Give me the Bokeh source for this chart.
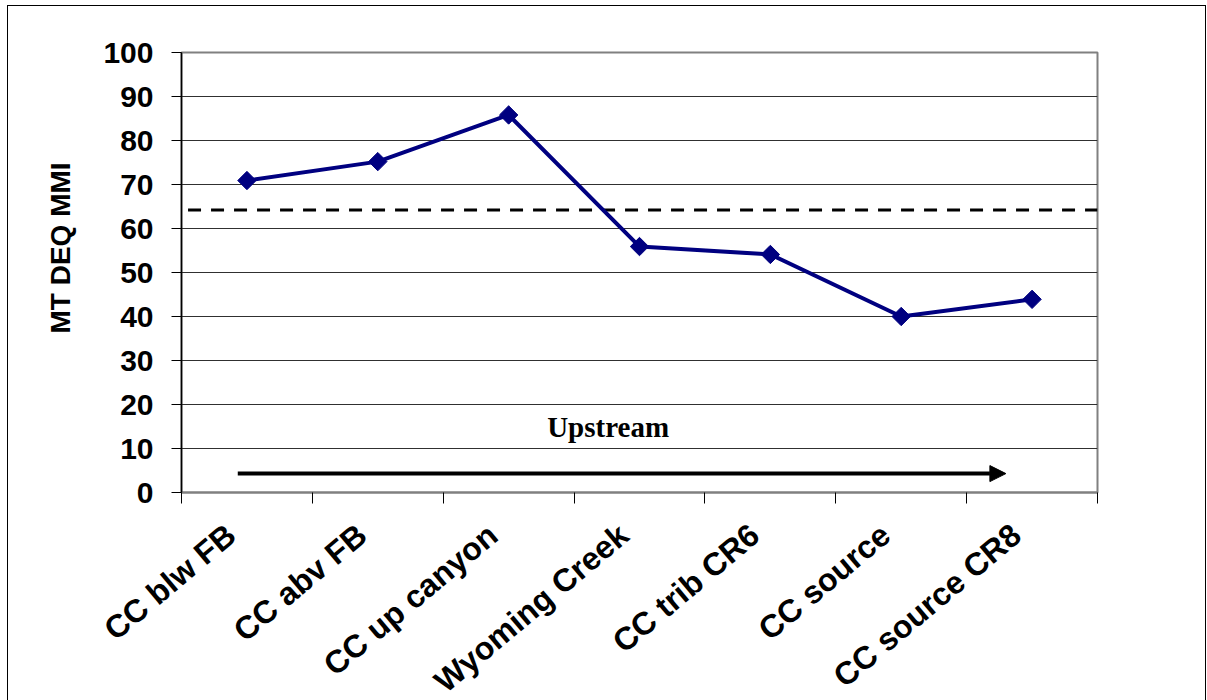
from math import pi
from bokeh.plotting import figure
from bokeh.models import Range1d, FixedTicker, Label, Arrow, NormalHead, Title
from bokeh.embed import file_html
from bokeh.resources import INLINE

# ---- data ----
sites = ["CC blw FB", "CC abv FB", "CC up canyon", "Wyoming Creek",
         "CC trib CR6", "CC source", "CC source CR8"]
mmi = [70.9, 75.2, 85.8, 55.9, 54.1, 40.0, 43.9]
threshold = 64.2
y_ticks = [0, 10, 20, 30, 40, 50, 60, 70, 80, 90, 100]
arrow_text = "Upstream"
y_title = "MT DEQ MMI"

n = len(sites)
xc = [i + 0.5 for i in range(n)]
label_shift = 0.12  # rotated labels sit slightly left of the category centre
xl = [x - label_shift for x in xc]

FONT = "Liberation Sans"

p = figure(frame_width=916, frame_height=440, x_range=Range1d(0, n), y_range=Range1d(0, 100),
           output_backend="svg", toolbar_location=None,
           min_border_left=173, min_border_top=46, min_border_right=108, min_border_bottom=206)
p.styles = {"border-top": "1px solid black", "border-left": "1px solid black",
            "border-right": "1px solid black", "border-bottom": "none",
            "margin-left": "7px", "margin-top": "5px",
            "max-height": "695px", "overflow": "hidden", "box-sizing": "border-box"}
p.background_fill_color = "white"
p.border_fill_color = "white"
p.outline_line_color = "#808080"
p.outline_line_width = 2

# grid
p.xgrid.visible = False
p.ygrid.ticker = FixedTicker(ticks=y_ticks)
p.ygrid.grid_line_color = "#303030"
p.ygrid.grid_line_width = 1

# y axis
p.yaxis.ticker = FixedTicker(ticks=y_ticks, minor_ticks=[])
p.yaxis.major_tick_out = 10
p.yaxis.major_tick_in = 0
p.yaxis.major_tick_line_color = "black"
p.yaxis.minor_tick_line_color = None
p.yaxis.axis_line_color = "black"
p.yaxis.axis_line_width = 1.5
p.yaxis.major_label_text_font = FONT
p.yaxis.major_label_text_font_style = "bold"
p.yaxis.major_label_text_font_size = "30px"
p.yaxis.major_label_text_color = "black"
p.yaxis.major_label_standoff = 18

# y title as a left-side title (allows vertical offset)
p.add_layout(Title(text=y_title, align="left", offset=159, standoff=49,
                   text_font=FONT, text_font_style="bold", text_font_size="28px",
                   text_color="black"), "left")

# x axis
p.xaxis.ticker = FixedTicker(ticks=xl, minor_ticks=list(range(n + 1)))
p.xaxis.major_tick_out = 0
p.xaxis.major_tick_in = 0
p.xaxis.major_tick_line_color = None
p.xaxis.minor_tick_out = 11
p.xaxis.minor_tick_in = 0
p.xaxis.minor_tick_line_color = "black"
p.xaxis.axis_line_color = "#808080"
p.xaxis.axis_line_width = 2
p.xaxis.major_label_overrides = {x: s for x, s in zip(xl, sites)}
p.xaxis.major_label_orientation = 40 * pi / 180
p.xaxis.major_label_text_font = FONT
p.xaxis.major_label_text_font_style = "bold"
p.xaxis.major_label_text_font_size = "32px"
p.xaxis.major_label_text_color = "black"
p.xaxis.major_label_standoff = 27

# threshold dashed line
p.line([0.05, n], [threshold, threshold], line_color="black", line_width=3, line_dash="13 10")

# series
p.line(xc, mmi, line_color="#000080", line_width=4)
p.scatter(xc, mmi, marker="square", angle=pi / 4, size=13, fill_color="#000080", line_color="#000080")

# upstream arrow
p.add_layout(Arrow(x_start=0.43, y_start=4.3, x_end=6.30, y_end=4.3, line_width=4, line_color="black",
                   end=NormalHead(size=16, fill_color="black", line_color="black")))
p.add_layout(Label(x=3.26, y=14.8, text=arrow_text, text_align="center", text_baseline="alphabetic",
                   text_font="Liberation Serif", text_font_style="bold", text_font_size="29px",
                   text_color="black"))

open("out.html", "w").write(file_html(p, INLINE))
